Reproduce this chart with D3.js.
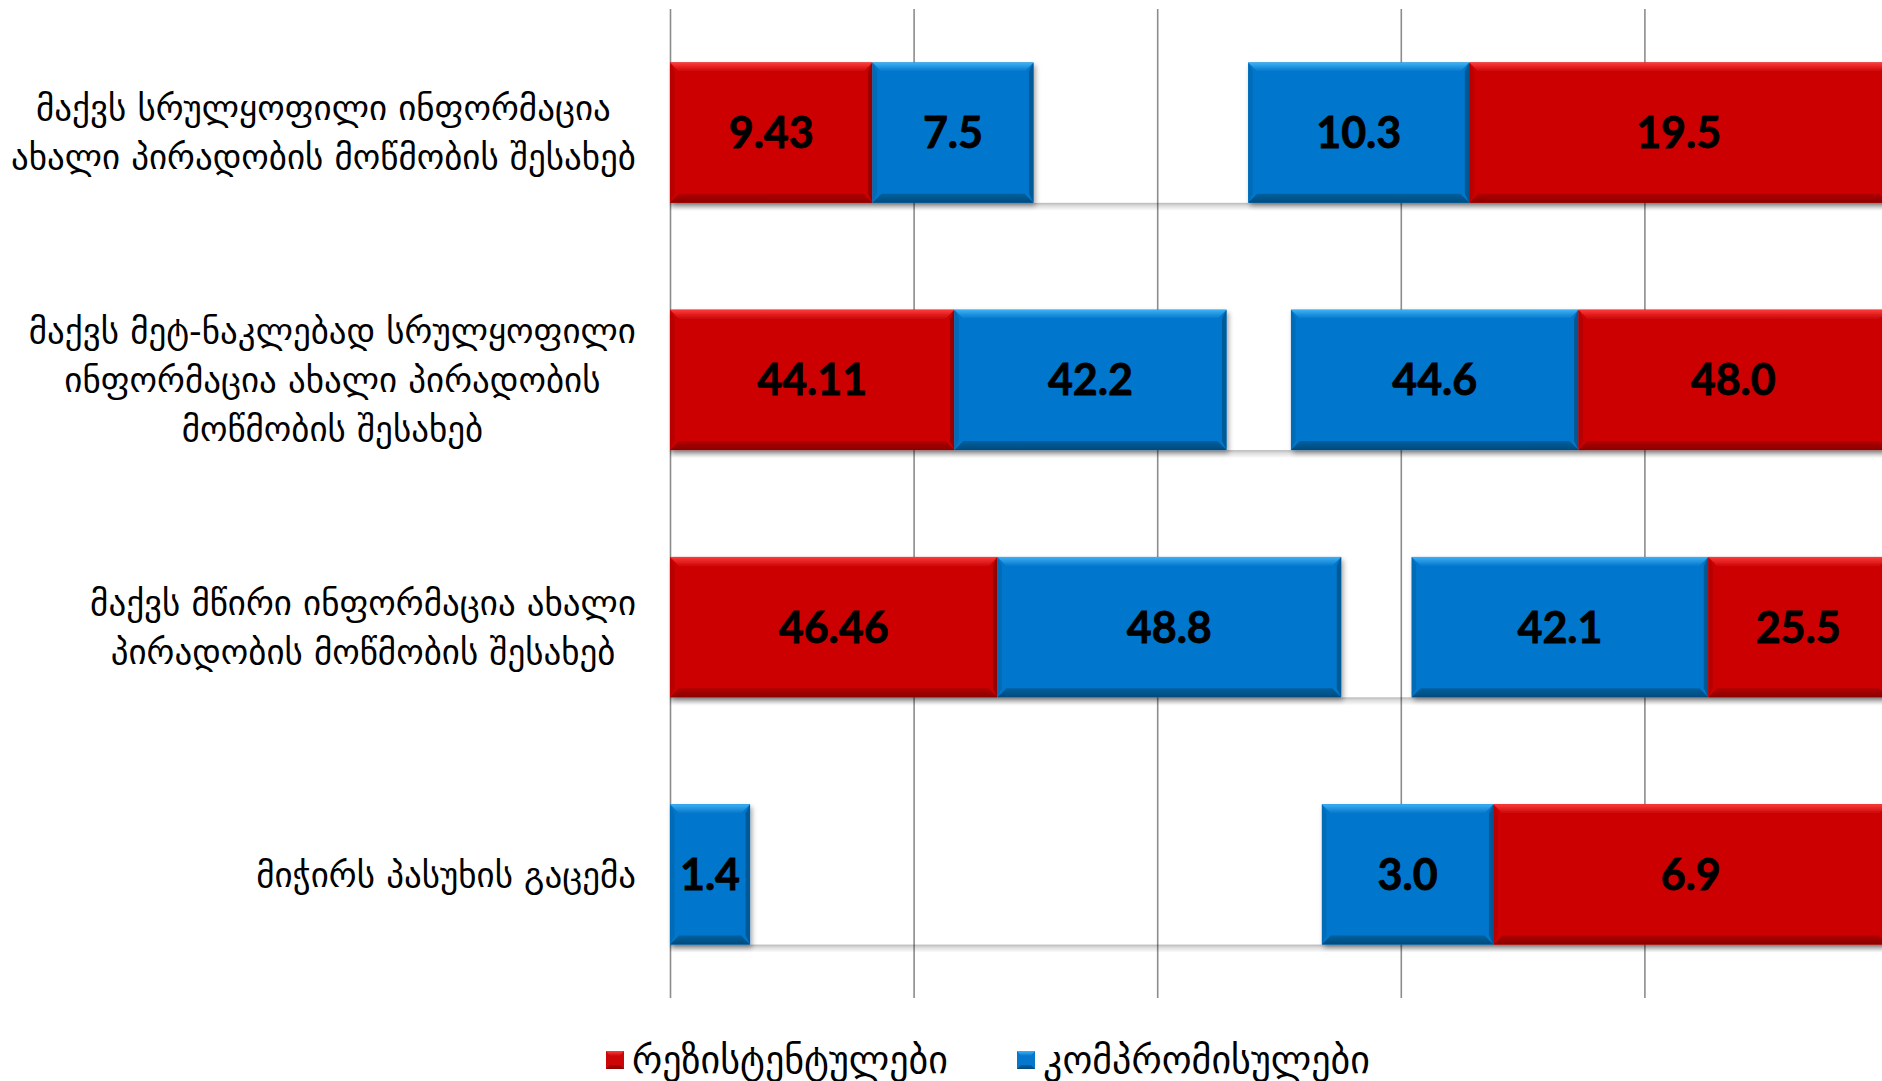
<!DOCTYPE html>
<html>
<head>
<meta charset="utf-8">
<script src="https://cdn.jsdelivr.net/npm/d3@7"></script>
<style>
  html, body { margin: 0; padding: 0; background: #ffffff; overflow: hidden; }
  svg { display: block; }
</style>
</head>
<body>
<svg id="chart" width="1882" height="1081"></svg>
<script>
// ---------------- DATA ----------------
const categories = [
  ["მაქვს სრულყოფილი ინფორმაცია", "ახალი პირადობის მოწმობის შესახებ"],
  ["მაქვს მეტ-ნაკლებად სრულყოფილი", "ინფორმაცია ახალი პირადობის", "მოწმობის შესახებ"],
  ["მაქვს მწირი ინფორმაცია ახალი", "პირადობის მოწმობის შესახებ"],
  ["მიჭირს პასუხის გაცემა"]
];
const resistantLeft   = [9.43, 44.11, 46.46, 0];
const compromiseLeft  = [7.5, 42.2, 48.8, 1.4];
const spacer          = [10, 10, 10, 10];
const compromiseRight = [10.3, 44.6, 42.1, 3.0];
const resistantRight  = [19.5, 48.0, 25.5, 6.9];
const legendLabels = ["რეზისტენტულები", "კომპრომისულები"];
const xTicks = [0, 0.2, 0.4, 0.6, 0.8, 1.0];

// ---------------- SETUP ----------------
const svg = d3.select("#chart");
const W = 1882, H = 1081;
const plot = { left: 670, right: 1888, top: 9, bottom: 998 };

const RED = "#cc0606", BLUE = "#0577cc";
const keys = ["resL", "compL", "gap", "compR", "resR"];
const keyType = { resL: "res", compL: "comp", gap: "gap", compR: "comp", resR: "res" };
const keyFmt = { resL: d3.format(".2f"), compL: d3.format(".1f"), gap: null, compR: d3.format(".1f"), resR: d3.format(".1f") };

const rows = categories.map((c, i) => ({
  idx: i,
  resL: resistantLeft[i], compL: compromiseLeft[i], gap: spacer[i],
  compR: compromiseRight[i], resR: resistantRight[i]
}));

const stack = d3.stack().keys(keys).offset(d3.stackOffsetExpand);
const series = stack(rows);

const x = d3.scaleLinear().domain([0, 1]).range([plot.left, plot.right]);
const y = d3.scaleBand().domain(rows.map(r => r.idx)).range([plot.top, plot.bottom])
  .paddingInner(0.432).paddingOuter(0.216);

// defs
const defs = svg.append("defs");
function vgrad(id, stops) {
  const g = defs.append("linearGradient").attr("id", id).attr("x1", 0).attr("y1", 0).attr("x2", 0).attr("y2", 1);
  stops.forEach(s => g.append("stop").attr("offset", s[0]).attr("stop-color", s[1]).attr("stop-opacity", s[2] == null ? 1 : s[2]));
}
vgrad("shadowGrad", [[0, "#000", 0.28], [0.35, "#000", 0.14], [1, "#000", 0]]);
vgrad("redTop", [[0, "#ff3b3b"], [1, RED]]);
vgrad("redBot", [[0, "#b00505"], [1, "#8a0303"]]);
vgrad("blueTop", [[0, "#3db2f5"], [1, BLUE]]);
vgrad("blueBot", [[0, "#05609f"], [1, "#044a7c"]]);
const f = defs.append("filter").attr("id", "barShadow").attr("x", "-5%").attr("y", "-10%").attr("width", "115%").attr("height", "130%");
f.append("feDropShadow").attr("dx", 2).attr("dy", 3).attr("stdDeviation", 2.5)
  .attr("flood-color", "#000").attr("flood-opacity", 0.35);

// ---------------- GRIDLINES ----------------
const gridAxis = d3.axisBottom(x).tickValues(xTicks).tickSize(plot.bottom - plot.top).tickFormat("");
const grid = svg.append("g").attr("transform", `translate(0,${plot.top})`).call(gridAxis);
grid.select(".domain").remove();
grid.selectAll(".tick line").attr("stroke", "#8c8c8c").attr("stroke-width", 1.6);

// ---------------- BARS ----------------
const bh = y.bandwidth();
const bev = 9;

// shadows under every segment (including invisible spacer)
series.forEach(s => {
  svg.append("g").selectAll("rect").data(s.filter(d => d[1] - d[0] > 0)).join("rect")
    .attr("x", d => x(d[0]))
    .attr("width", d => x(d[1]) - x(d[0]))
    .attr("y", d => y(d.data.idx) + bh)
    .attr("height", 8)
    .attr("fill", "url(#shadowGrad)");
});

series.forEach(s => {
  const t = keyType[s.key];
  if (t === "gap") return;
  const base = t === "res" ? RED : BLUE;
  const topG = t === "res" ? "url(#redTop)" : "url(#blueTop)";
  const botG = t === "res" ? "url(#redBot)" : "url(#blueBot)";
  const sideL = t === "res" ? "#b80505" : "#056cb8";
  const sideR = t === "res" ? "#9c0404" : "#045a98";
  const segs = s.filter(d => d[1] - d[0] > 0);
  const g = svg.append("g").selectAll("g").data(segs).join("g").attr("filter", "url(#barShadow)");
  g.each(function(d) {
    const x0 = x(d[0]), x1 = Math.min(x(d[1]), W + 20), y0 = y(d.data.idx), y1 = y0 + bh;
    const el = d3.select(this);
    el.append("rect").attr("x", x0).attr("y", y0).attr("width", x1 - x0).attr("height", bh).attr("fill", base);
    el.append("polygon").attr("points", [[x0, y0], [x1, y0], [x1 - bev, y0 + bev], [x0 + bev, y0 + bev]].join(" ")).attr("fill", topG);
    el.append("polygon").attr("points", [[x0, y1], [x1, y1], [x1 - bev, y1 - bev], [x0 + bev, y1 - bev]].join(" ")).attr("fill", botG);
    el.append("polygon").attr("points", [[x0, y0], [x0 + bev * 0.5, y0 + bev], [x0 + bev * 0.5, y1 - bev], [x0, y1]].join(" ")).attr("fill", sideL);
    el.append("polygon").attr("points", [[x1, y0], [x1 - bev * 0.5, y0 + bev], [x1 - bev * 0.5, y1 - bev], [x1, y1]].join(" ")).attr("fill", sideR);
  });
});

// value labels
series.forEach(s => {
  if (keyType[s.key] === "gap") return;
  const fmt = keyFmt[s.key];
  svg.append("g").selectAll("text").data(s.filter(d => d.data[s.key] > 0)).join("text")
    .attr("x", d => (x(d[0]) + x(d[1])) / 2)
    .attr("y", d => y(d.data.idx) + bh / 2)
    .attr("dy", "0.36em")
    .attr("text-anchor", "middle")
    .attr("font-family", "Lato, 'Open Sans', sans-serif")
    .attr("font-weight", 700)
    .attr("font-size", 43)
    .attr("fill", "#000")
    .attr("stroke", "#000")
    .attr("stroke-width", 0.8)
    .text(d => fmt(d.data[s.key]));
});

// ---------------- CATEGORY LABELS ----------------
const labelRight = 636;
const lineH = 49;
const catFont = "'DejaVu Sans', sans-serif";
const catSize = 35;
const catG = svg.append("g");
rows.forEach((r, i) => {
  const lines = categories[i];
  const cy = y(r.idx) + bh / 2;
  const g = catG.append("g");
  const texts = lines.map((ln, j) => g.append("text")
    .attr("y", cy + (j - (lines.length - 1) / 2) * lineH)
    .attr("dy", "0.35em")
    .attr("text-anchor", "middle")
    .attr("font-family", catFont)
    .attr("font-size", catSize)
    .attr("fill", "#000")
    .text(ln));
  const maxW = d3.max(texts, t => t.node().getComputedTextLength());
  texts.forEach(t => t.attr("x", labelRight - maxW / 2));
});

// ---------------- LEGEND ----------------
const legendItems = [
  { label: legendLabels[0], type: "res", x: 606 },
  { label: legendLabels[1], type: "comp", x: 1017 }
];
const legY = 1060;
legendItems.forEach(it => {
  const g = svg.append("g");
  const s = 18;
  const base = it.type === "res" ? RED : BLUE;
  g.append("rect").attr("x", it.x).attr("y", legY - s / 2).attr("width", s).attr("height", s).attr("fill", base);
  g.append("polygon").attr("points", [[it.x, legY - s / 2], [it.x + s, legY - s / 2], [it.x + s - 4, legY - s / 2 + 5], [it.x + 4, legY - s / 2 + 5]].join(" "))
    .attr("fill", it.type === "res" ? "url(#redTop)" : "url(#blueTop)");
  g.append("polygon").attr("points", [[it.x, legY + s / 2], [it.x + s, legY + s / 2], [it.x + s - 4, legY + s / 2 - 4], [it.x + 4, legY + s / 2 - 4]].join(" "))
    .attr("fill", it.type === "res" ? "url(#redBot)" : "url(#blueBot)");
  g.append("text").attr("x", it.x + s + 8).attr("y", legY).attr("dy", "0.35em")
    .attr("font-family", catFont).attr("font-size", 38).attr("fill", "#000").text(it.label);
});
</script>
</body>
</html>
